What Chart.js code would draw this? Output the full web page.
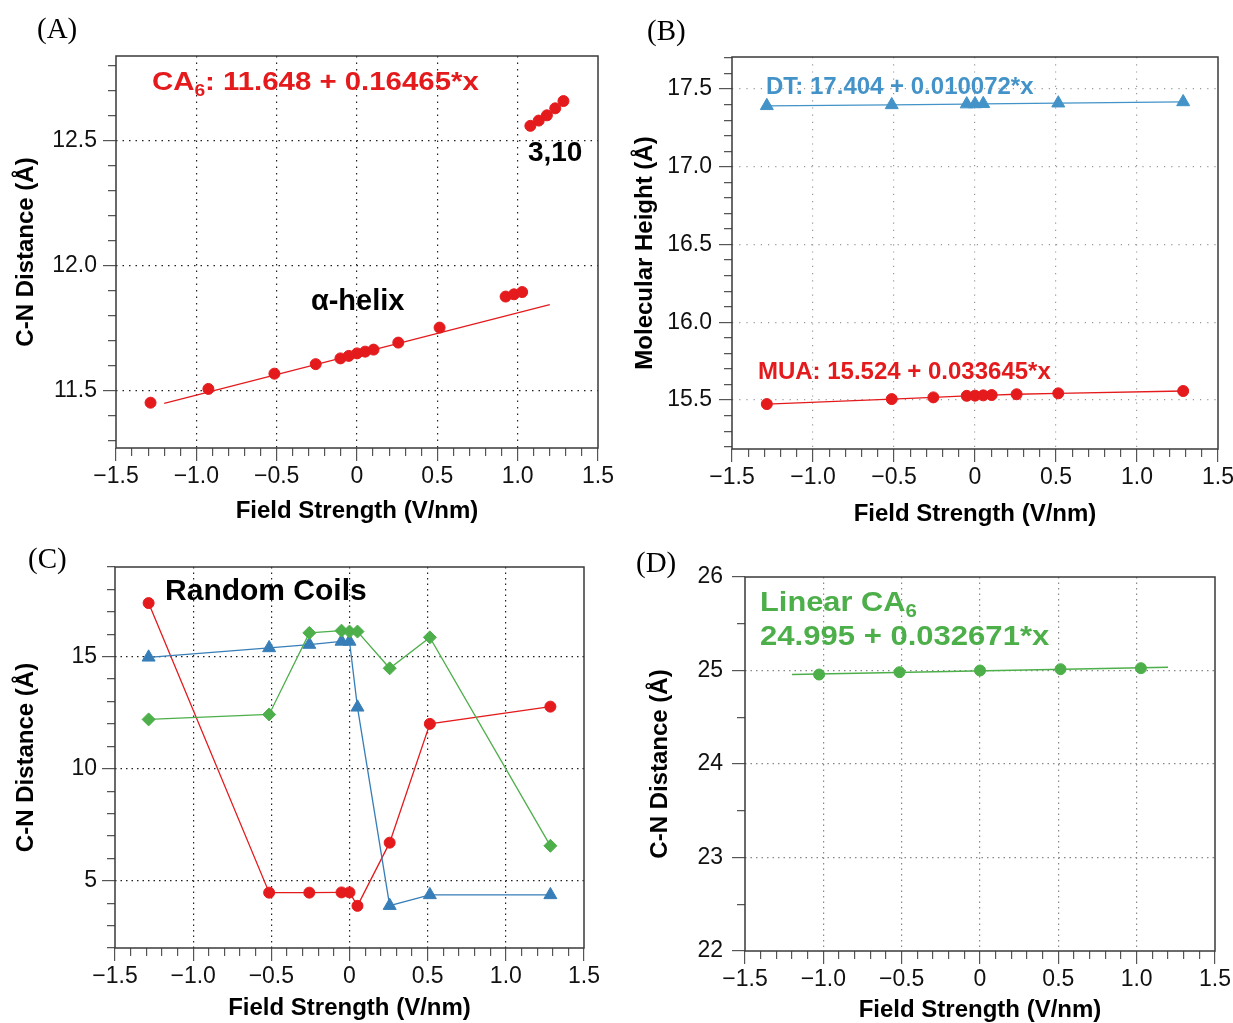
<!DOCTYPE html>
<html>
<head>
<meta charset="utf-8">
<title>C-N distance vs field strength</title>
<script src="https://cdn.jsdelivr.net/npm/chart.js@4.4.1/dist/chart.umd.min.js"></script>
<style>
  body { margin: 0; background: #fff; }
  #fig { position: relative; width: 1233px; height: 1023px; overflow: hidden; }
  #fig canvas { position: absolute; }
  .tag { position: absolute; font-family: "Liberation Serif", "Times New Roman", serif; font-size: 29px; line-height: 1; color: #000; }
</style>
</head>
<body>
<div id="fig">
  <canvas id="chartA"></canvas>
  <canvas id="chartB"></canvas>
  <canvas id="chartC"></canvas>
  <canvas id="chartD"></canvas>
  <div class="tag" style="left:37px;top:14px">(A)</div>
  <div class="tag" style="left:647px;top:16px">(B)</div>
  <div class="tag" style="left:28px;top:544px">(C)</div>
  <div class="tag" style="left:636px;top:548px">(D)</div>
</div>
<script>
// ---- data ----

// shared x axis (field strength, V/nm)
const xMajors = [-1.5, -1.0, -0.5, 0, 0.5, 1.0, 1.5];
const xLabels = ['\u22121.5', '\u22121.0', '\u22120.5', '0', '0.5', '1.0', '1.5'];

// (A) CA6 helix: alpha-helix points then the 3,10 points
const fieldA = [-1.285, -0.925, -0.514, -0.257, -0.103, -0.051, 0, 0.051, 0.103, 0.257, 0.514,
                0.925, 0.977, 1.028, 1.079, 1.131, 1.182, 1.234, 1.285];
const distA = [11.453, 11.508, 11.569, 11.607, 11.630, 11.640, 11.650, 11.657, 11.665, 11.693, 11.753,
               11.877, 11.886, 11.895, 12.559, 12.580, 12.601, 12.629, 12.658];
const fitAx = [-1.2, 1.2];
const fitAy = [11.45, 11.845];
const yMajorsA = [11.5, 12.0, 12.5];
const yLabelsA = ['11.5', '12.0', '12.5'];

// (B) molecular height
const fieldDT = [-1.285, -0.514, -0.051, 0, 0.051, 0.514, 1.285];
const heightDT = [17.392, 17.398, 17.403, 17.404, 17.405, 17.409, 17.417];
const fieldMUA = [-1.285, -0.514, -0.257, -0.051, 0, 0.051, 0.103, 0.257, 0.514, 1.285];
const heightMUA = [15.474, 15.506, 15.517, 15.527, 15.528, 15.530, 15.532, 15.537, 15.543, 15.558];
const yMajorsB = [15.5, 16.0, 16.5, 17.0, 17.5];
const yLabelsB = ['15.5', '16.0', '16.5', '17.0', '17.5'];

// (C) random coils, three runs
const fieldC = [-1.285, -0.514, -0.257, -0.051, 0, 0.051, 0.257, 0.514, 1.285];
const coilRed = [17.39, 4.47, 4.47, 4.48, 4.48, 3.88, 6.70, 12.0, 12.77];
const coilBlue = [14.97, 15.39, 15.54, 15.68, 15.68, 12.74, 3.89, 4.37, 4.37];
const coilGreen = [12.20, 12.42, 16.06, 16.16, 16.12, 16.12, 14.48, 15.86, 6.56];
const yMajorsC = [5, 10, 15];
const yLabelsC = ['5', '10', '15'];

// (D) linear CA6
const fieldD = [-1.027, -0.514, 0, 0.514, 1.027];
const distD = [24.957, 24.982, 25.0, 25.014, 25.025];
const fitDx = [-1.2, 1.2];
const fitDy = [24.956, 25.036];
const yMajorsD = [22, 23, 24, 25, 26];
const yLabelsD = ['22', '23', '24', '25', '26'];

// ---- drawing ----
const FONT = '"Liberation Sans", Arial, Helvetica, sans-serif';
const RED = '#e41a1c';
const BLUE = '#377eb8';
const BLUE_B = '#4393c8';
const GREEN = '#4daf4a';

Chart.defaults.font.family = FONT;
Chart.defaults.color = '#111';

function near(a, b) { return Math.abs(a - b) < 1e-6; }
function pts(xs, ys) { return xs.map((x, i) => ({ x: x, y: ys[i] })); }

// axis with minor ticks every `step`, labels + dotted grid only on majors
function makeAxis(o) {
  const isX = o.pos === 'bottom';
  const isMajor = v => o.majors.some(m => near(m, v));
  return {
    type: 'linear',
    position: o.pos,
    min: o.min,
    max: o.max,
    afterBuildTicks: scale => {
      const ticks = [];
      const n0 = Math.ceil(o.min / o.step - 1e-6);
      const n1 = Math.floor(o.max / o.step + 1e-6);
      for (let n = n0; n <= n1; n++) ticks.push({ value: +(n * o.step).toFixed(6) });
      scale.ticks = ticks;
    },
    afterFit: scale => {
      if (isX) scale.height = o.size; else scale.width = o.size;
      scale.paddingLeft = 0; scale.paddingRight = 0;
      scale.paddingTop = 0; scale.paddingBottom = 0;
    },
    ticks: {
      autoSkip: false,
      maxRotation: 0,
      padding: o.pad,
      color: '#111',
      font: { size: 23 },
      callback: v => {
        const i = o.majors.findIndex(m => near(m, v));
        return i < 0 ? '' : o.labels[i];
      }
    },
    grid: {
      drawTicks: true,
      tickLength: 13,
      tickWidth: 1.2,
      tickColor: '#555',
      lineWidth: 1.2,
      color: ctx => {
        if (!ctx.tick) return 'rgba(0,0,0,0)';
        const v = ctx.tick.value;
        const edge = near(v, o.min) || near(v, o.max);
        return isMajor(v) && !edge ? o.gridColor : 'rgba(0,0,0,0)';
      },
      tickBorderDash: ctx => {
        if (!ctx.tick || isMajor(ctx.tick.value)) return [];
        return isX ? [8, 40] : [0, 5, 8, 40];
      }
    },
    border: { display: false, dash: o.dash },
    title: {
      display: true,
      text: o.title,
      color: '#000',
      padding: 0,
      font: { size: 24, weight: 'bold' }
    }
  };
}

const frame = {
  id: 'frame',
  beforeDatasetsDraw(chart) {
    const { ctx, chartArea: a } = chart;
    ctx.save();
    ctx.strokeStyle = '#3a3a3a';
    ctx.lineWidth = 1.5;
    ctx.strokeRect(a.left, a.top, a.right - a.left, a.bottom - a.top);
    ctx.restore();
  }
};

// text notes anchored at data coordinates (left / middle), optional horizontal stretch
function notes(list) {
  return {
    id: 'notes',
    afterDatasetsDraw(chart) {
      const { ctx, scales } = chart;
      for (const n of list) {
        const px = scales.x.getPixelForValue(n.x);
        const py = scales.y.getPixelForValue(n.y);
        ctx.save();
        ctx.translate(px, py);
        ctx.scale(n.stretch || 1, 1);
        ctx.textBaseline = 'middle';
        ctx.textAlign = 'left';
        ctx.fillStyle = n.color;
        let cx = 0;
        for (const part of n.parts) {
          const size = part.sub ? Math.round(n.size * 0.66) : n.size;
          ctx.font = 'bold ' + size + 'px ' + FONT;
          ctx.fillText(part.t, cx, part.sub ? n.size * 0.32 : 0);
          cx += ctx.measureText(part.t).width;
        }
        ctx.restore();
      }
    }
  };
}

// place a chart so its plot area, axis titles land where wanted
function panel(id, box, area, yTitleX, xTitleY, xAxis, yAxis, datasets, noteList) {
  const half = 24 * 1.2 / 2;
  const padL = yTitleX - half - box.x;
  const padT = area.t - box.y;
  const padR = box.x + box.w - area.r;
  const padB = box.y + box.h - (xTitleY + half);
  xAxis.size = xTitleY + half - area.b;
  yAxis.size = area.l - box.x - padL;

  const canvas = document.getElementById(id);
  canvas.style.left = box.x + 'px';
  canvas.style.top = box.y + 'px';
  canvas.width = box.w;
  canvas.height = box.h;
  canvas.style.width = box.w + 'px';
  canvas.style.height = box.h + 'px';

  return new Chart(canvas, {
    type: 'scatter',
    data: { datasets: datasets },
    options: {
      responsive: false,
      animation: false,
      devicePixelRatio: 1,
      layout: { padding: { left: padL, top: padT, right: padR, bottom: padB } },
      plugins: { legend: { display: false }, tooltip: { enabled: false } },
      scales: { x: makeAxis(xAxis), y: makeAxis(yAxis) }
    },
    plugins: [frame, notes(noteList)]
  });
}

function xAxisOpts(gridColor, dash) {
  return {
    pos: 'bottom', min: -1.5, max: 1.5, step: 0.1, majors: xMajors, labels: xLabels,
    title: 'Field Strength (V/nm)', gridColor: gridColor, dash: dash, pad: 2
  };
}

function dots(xs, ys, color, style, r) {
  return {
    data: pts(xs, ys), showLine: false, pointStyle: style, pointRadius: r,
    backgroundColor: color, borderColor: color, pointBorderWidth: 1
  };
}
function linked(xs, ys, color, style, r) {
  return {
    data: pts(xs, ys), showLine: true, borderWidth: 1.3, borderColor: color,
    pointStyle: style, pointRadius: r, pointBackgroundColor: color,
    pointBorderColor: color, pointBorderWidth: 1
  };
}
function fitLine(xs, ys, color, w) {
  return { data: pts(xs, ys), showLine: true, borderColor: color, borderWidth: w, pointRadius: 0 };
}

// (A)
panel('chartA', { x: 0, y: 0, w: 620, h: 540 }, { l: 116, r: 598, t: 56, b: 448 }, 26, 511,
  xAxisOpts('#222', [1.5, 5]),
  { pos: 'left', min: 11.272, max: 12.838, step: 0.1, majors: yMajorsA, labels: yLabelsA,
    title: 'C-N Distance (\u00c5)', gridColor: '#222', dash: [1.5, 5], pad: 6 },
  [fitLine(fitAx, fitAy, RED, 1.2), dots(fieldA, distA, RED, 'circle', 5.5)],
  [
    { x: -1.276, y: 12.73, color: RED, size: 26, stretch: 1.13,
      parts: [{ t: 'CA' }, { t: '6', sub: true }, { t: ': 11.648 + 0.16465*x' }] },
    { x: 1.064, y: 12.45, color: '#000', size: 28, parts: [{ t: '3,10' }] },
    { x: -0.287, y: 11.856, color: '#000', size: 29, parts: [{ t: '\u03b1-helix' }] }
  ]);

// (B)
panel('chartB', { x: 620, y: 0, w: 613, h: 540 }, { l: 732, r: 1218, t: 57, b: 449 }, 645, 514,
  xAxisOpts('#999', [1.2, 6]),
  { pos: 'left', min: 15.185, max: 17.706, step: 0.1, majors: yMajorsB, labels: yLabelsB,
    title: 'Molecular Height (\u00c5)', gridColor: '#999', dash: [1.2, 6], pad: 7 },
  [linked(fieldDT, heightDT, BLUE_B, 'triangle', 7.5), linked(fieldMUA, heightMUA, RED, 'circle', 5.5)],
  [
    { x: -1.29, y: 17.513, color: BLUE_B, size: 24, parts: [{ t: 'DT: 17.404 + 0.010072*x' }] },
    { x: -1.34, y: 15.68, color: RED, size: 24, parts: [{ t: 'MUA: 15.524 + 0.033645*x' }] }
  ]);

// (C)
panel('chartC', { x: 0, y: 540, w: 620, h: 483 }, { l: 115, r: 584, t: 567, b: 948 }, 26, 1008,
  xAxisOpts('#222', [1.5, 4]),
  { pos: 'left', min: 2, max: 19, step: 1, majors: yMajorsC, labels: yLabelsC,
    title: 'C-N Distance (\u00c5)', gridColor: '#222', dash: [1.5, 4], pad: 5 },
  [
    linked(fieldC, coilGreen, GREEN, 'rectRot', 6.5),
    linked(fieldC, coilBlue, BLUE, 'triangle', 7.5),
    linked(fieldC, coilRed, RED, 'circle', 5.5)
  ],
  [{ x: -1.18, y: 17.9, color: '#000', size: 30, parts: [{ t: 'Random Coils' }] }]);

// (D)
panel('chartD', { x: 620, y: 540, w: 613, h: 483 }, { l: 745, r: 1215, t: 577, b: 951 }, 660, 1010,
  xAxisOpts('#888', [1.5, 4]),
  { pos: 'left', min: 22, max: 26, step: 0.5, majors: yMajorsD, labels: yLabelsD,
    title: 'C-N Distance (\u00c5)', gridColor: '#888', dash: [1.5, 4], pad: 9 },
  [fitLine(fitDx, fitDy, GREEN, 1.5), dots(fieldD, distD, GREEN, 'circle', 5.5)],
  [
    { x: -1.404, y: 25.72, color: GREEN, size: 27, stretch: 1.14,
      parts: [{ t: 'Linear CA' }, { t: '6', sub: true }] },
    { x: -1.404, y: 25.35, color: GREEN, size: 27, stretch: 1.15,
      parts: [{ t: '24.995 + 0.032671*x' }] }
  ]);
</script>
</body>
</html>
